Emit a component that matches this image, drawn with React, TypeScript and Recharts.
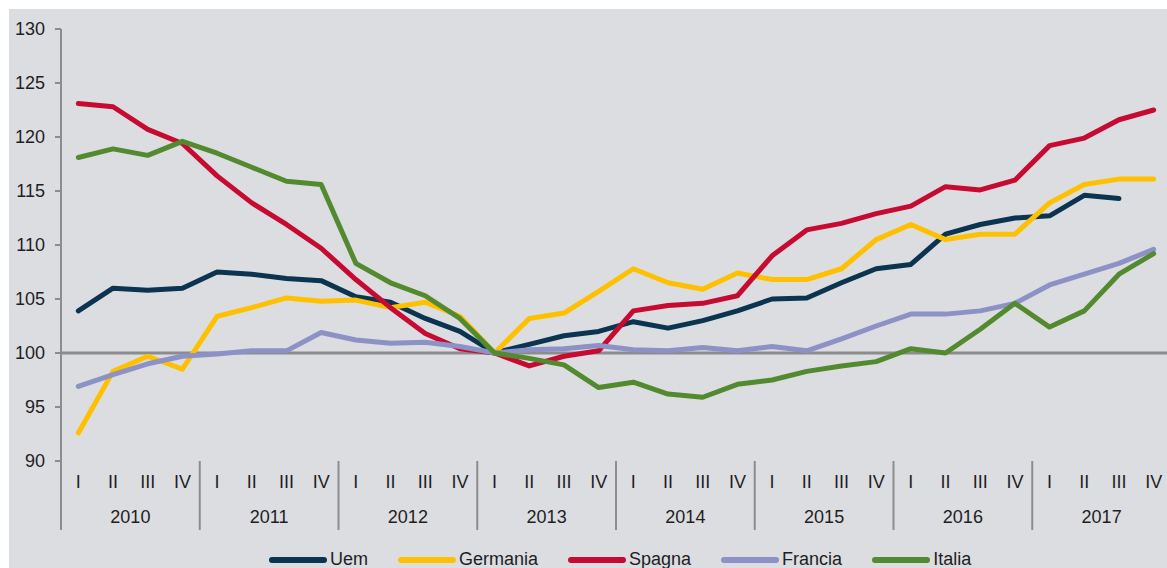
import { LineChart, Line, XAxis, YAxis, ReferenceLine } from "recharts";

const years = ["2010", "2011", "2012", "2013", "2014", "2015", "2016", "2017"];
const quarterNames = ["I", "II", "III", "IV"];
const yTicks = [90, 95, 100, 105, 110, 115, 120, 125, 130];

const uem = [
  103.9, 106.0, 105.8, 106.0, 107.5, 107.3, 106.9, 106.7, 105.2, 104.7, 103.2, 102.0,
  100.0, 100.8, 101.6, 102.0, 102.9, 102.3, 103.0, 103.9, 105.0, 105.1, 106.5, 107.8,
  108.2, 111.0, 111.9, 112.5, 112.7, 114.6, 114.3, null,
];
const germania = [
  92.6, 98.3, 99.7, 98.5, 103.4, 104.2, 105.1, 104.8, 104.9, 104.2, 104.7, 103.4,
  100.0, 103.2, 103.7, 105.7, 107.8, 106.5, 105.9, 107.4, 106.8, 106.8, 107.8, 110.5,
  111.9, 110.5, 111.0, 111.0, 113.9, 115.6, 116.1, 116.1,
];
const spagna = [
  123.1, 122.8, 120.7, 119.4, 116.4, 113.9, 111.9, 109.7, 106.8, 104.2, 101.8, 100.4,
  100.0, 98.8, 99.7, 100.2, 103.9, 104.4, 104.6, 105.3, 109.0, 111.4, 112.0, 112.9,
  113.6, 115.4, 115.1, 116.0, 119.2, 119.9, 121.6, 122.5,
];
const francia = [
  96.9, 98.0, 99.0, 99.7, 99.9, 100.2, 100.2, 101.9, 101.2, 100.9, 101.0, 100.6,
  100.0, 100.3, 100.4, 100.7, 100.3, 100.2, 100.5, 100.2, 100.6, 100.2, 101.3, 102.5,
  103.6, 103.6, 103.9, 104.6, 106.3, 107.3, 108.3, 109.6,
];
const italia = [
  118.1, 118.9, 118.3, 119.6, 118.5, 117.2, 115.9, 115.6, 108.3, 106.5, 105.3, 103.2,
  100.0, 99.5, 98.9, 96.8, 97.3, 96.2, 95.9, 97.1, 97.5, 98.3, 98.8, 99.2,
  100.4, 100.0, 102.2, 104.6, 102.4, 103.9, 107.3, 109.2,
];

const series = [
  { key: "uem", name: "Uem", color: "#0b3450" },
  { key: "germania", name: "Germania", color: "#ffc000" },
  { key: "spagna", name: "Spagna", color: "#c70a32" },
  { key: "francia", name: "Francia", color: "#8c91c6" },
  { key: "italia", name: "Italia", color: "#548a2f" },
];

const data = years.flatMap((year, yi) =>
  quarterNames.map((q, qi) => {
    const i = yi * 4 + qi;
    return {
      key: `${year}-${q}`,
      year,
      q,
      uem: uem[i],
      germania: germania[i],
      spagna: spagna[i],
      francia: francia[i],
      italia: italia[i],
    };
  })
);

const FONT = "'Liberation Sans', Arial, sans-serif";
const TEXT = "#1e1e24";
const AXIS = "#8c8c8c";

function QuarterTick(props: any) {
  const { x, y, payload } = props;
  const i = payload?.index ?? props.index ?? 0;
  const half = payload?.offset || 17.34;
  const row = data[i];
  if (!row) return null;
  return (
    <g>
      {i % 4 === 0 && (
        <line x1={x - half} x2={x - half} y1={y} y2={y + 69} stroke={AXIS} strokeWidth={2} />
      )}
      <text x={x} y={y + 27} textAnchor="middle" fontSize={18} fill={TEXT} fontFamily={FONT}>
        {row.q}
      </text>
      {i % 4 === 1 && (
        <text x={x + half} y={y + 62} textAnchor="middle" fontSize={18} fill={TEXT} fontFamily={FONT}>
          {row.year}
        </text>
      )}
    </g>
  );
}

export default function App() {
  return (
    <div
      style={{
        position: "absolute",
        top: 0,
        left: 0,
        width: 1167,
        height: 568,
        overflow: "hidden",
        background: "#ffffff",
        fontFamily: FONT,
      }}
    >
      <div style={{ position: "absolute", left: 9, top: 9, right: 0, bottom: 0, background: "#dcdde0" }} />
      <div style={{ position: "absolute", left: 0, top: 0 }}>
        <LineChart width={1185} height={568} data={data} margin={{ top: 29, right: 14, bottom: 37, left: 0 }}>
          <ReferenceLine y={100} stroke={AXIS} strokeWidth={3} zIndex={50} />
          <XAxis
            dataKey="key"
            scale="band"
            interval={0}
            axisLine={false}
            tickLine={false}
            tickSize={0}
            tickMargin={0}
            height={70}
            tick={<QuarterTick />}
          />
          <YAxis
            domain={[90, 130]}
            ticks={yTicks}
            width={61}
            axisLine={{ stroke: AXIS, strokeWidth: 2 }}
            tickLine={{ stroke: AXIS, strokeWidth: 2 }}
            tickSize={6}
            tickMargin={10}
            tick={{ fill: TEXT, fontSize: 18, fontFamily: FONT }}
            interval={0}
          />
          {series.map((s) => (
            <Line
              key={s.key}
              type="linear"
              dataKey={s.key}
              name={s.name}
              stroke={s.color}
              strokeWidth={5}
              strokeLinejoin="round"
              strokeLinecap="round"
              dot={false}
              activeDot={false}
              isAnimationActive={false}
            />
          ))}
        </LineChart>
      </div>
      <div
        style={{
          position: "absolute",
          left: 269,
          top: 549,
          display: "flex",
          alignItems: "center",
          gap: 30,
          fontSize: 18,
          color: TEXT,
          whiteSpace: "nowrap",
        }}
      >
        {series.map((s) => (
          <div key={s.key} style={{ display: "flex", alignItems: "center", gap: 3 }}>
            <div style={{ width: 58, height: 6, borderRadius: 3, background: s.color }} />
            <span>{s.name}</span>
          </div>
        ))}
      </div>
    </div>
  );
}
